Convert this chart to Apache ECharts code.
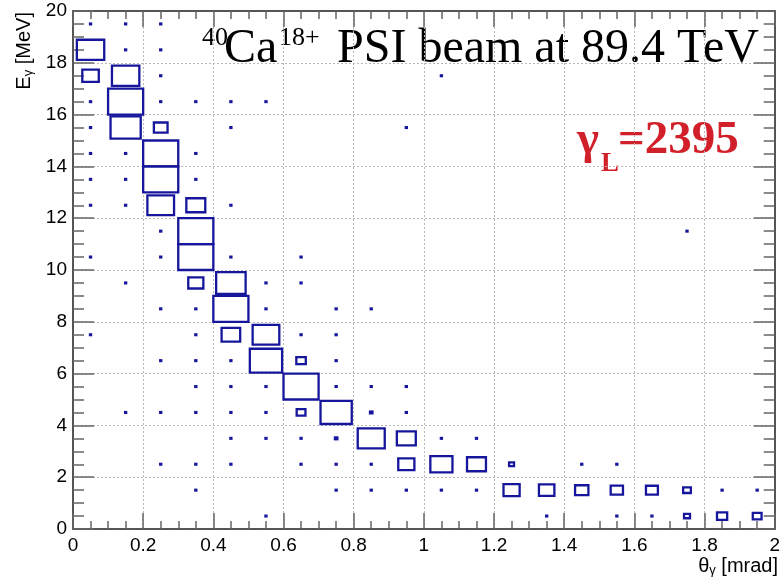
<!DOCTYPE html>
<html>
<head>
<meta charset="utf-8">
<script src="https://cdn.jsdelivr.net/npm/echarts@6.0.0/dist/echarts.min.js"></script>
<style>
html,body{margin:0;padding:0;background:#fff;}
#chart{width:783px;height:577px;}
</style>
</head>
<body>
<div id="chart"></div>
<script>
// Bin centres (theta in mrad, E in MeV) and relative bin content (max = 100)
const thetaValues = [
  0.05,0.15,0.25,
  0.05,0.15,0.25,
  0.05,0.15,0.25,1.05,
  0.05,0.15,0.25,0.35,0.45,0.55,
  0.05,0.15,0.25,0.45,0.95,
  0.05,0.15,0.25,0.35,
  0.05,0.15,0.25,0.35,
  0.05,0.15,0.25,0.35,0.45,
  0.25,0.35,1.75,
  0.05,0.25,0.35,0.45,0.65,
  0.15,0.35,0.45,0.55,0.65,
  0.25,0.35,0.45,0.55,0.75,0.85,
  0.05,0.35,0.45,0.55,0.65,0.75,
  0.25,0.35,0.45,0.55,0.65,0.75,
  0.35,0.45,0.55,0.65,0.75,0.85,0.95,
  0.15,0.25,0.35,0.45,0.55,0.65,0.75,0.85,0.95,
  0.45,0.55,0.65,0.75,0.85,0.95,1.05,1.15,
  0.25,0.35,0.45,0.65,0.75,0.85,0.95,1.05,1.15,1.25,1.45,1.55,
  0.35,0.75,0.85,0.95,1.05,1.15,1.25,1.35,1.45,1.55,1.65,1.75,1.85,1.95,
  0.55,1.35,1.55,1.65,1.75,1.85,1.95
];
const energyValues = [
  19.5,19.5,19.5,
  18.5,18.5,18.5,
  17.5,17.5,17.5,17.5,
  16.5,16.5,16.5,16.5,16.5,16.5,
  15.5,15.5,15.5,15.5,15.5,
  14.5,14.5,14.5,14.5,
  13.5,13.5,13.5,13.5,
  12.5,12.5,12.5,12.5,12.5,
  11.5,11.5,11.5,
  10.5,10.5,10.5,10.5,10.5,
  9.5,9.5,9.5,9.5,9.5,
  8.5,8.5,8.5,8.5,8.5,8.5,
  7.5,7.5,7.5,7.5,7.5,7.5,
  6.5,6.5,6.5,6.5,6.5,6.5,
  5.5,5.5,5.5,5.5,5.5,5.5,5.5,
  4.5,4.5,4.5,4.5,4.5,4.5,4.5,4.5,4.5,
  3.5,3.5,3.5,3.5,3.5,3.5,3.5,3.5,
  2.5,2.5,2.5,2.5,2.5,2.5,2.5,2.5,2.5,2.5,2.5,2.5,
  1.5,1.5,1.5,1.5,1.5,1.5,1.5,1.5,1.5,1.5,1.5,1.5,1.5,1.5,
  0.5,0.5,0.5,0.5,0.5,0.5,0.5
];
const binContent = [
  3,3,3,
  78,3,3,
  47,78,3,3,
  3,100,3,3,3,3,
  3,86,39,3,3,
  3,3,100,3,
  3,3,100,3,
  3,3,76,54,3,
  3,100,3,
  3,3,100,3,3,
  3,43,84,3,3,
  3,3,100,3,3,3,
  3,3,53,76,3,3,
  3,3,3,92,27,3,
  3,3,3,100,3,3,3,
  3,3,3,3,3,25,89,7,3,
  3,3,3,7,77,54,3,3,
  3,3,3,3,3,3,46,63,54,14,3,3,
  3,3,3,3,3,3,46,44,38,35,34,22,3,3,
  3,3,3,3,17,29,25
];
const xTicks = {min: 0, max: 2, step: 0.2};
const yTicks = {min: 0, max: 20, step: 2};
const binWidth = 0.1, binHeight = 1, maxContent = 100;

const data = thetaValues.map((t, i) => [t, energyValues[i], binContent[i]]);

const chart = echarts.init(document.getElementById('chart'), null, {renderer: 'canvas'});
const axisColor = '#555';
const tickStyle = {color: '#666', width: 1.5};
const gridStyle = {color: '#b8b8b8', width: 1, type: [2, 2]};
const sans = 'Liberation Sans';

chart.setOption({
  animation: false,
  backgroundColor: '#fff',
  grid: {left: 73, right: 5, top: 11, bottom: 48, containLabel: false},
  xAxis: [{
    type: 'value', min: xTicks.min, max: xTicks.max, interval: xTicks.step, position: 'bottom',
    axisLine: {show: true, onZero: false, lineStyle: {color: axisColor, width: 2}},
    axisTick: {show: true, inside: true, length: 16, lineStyle: tickStyle},
    minorTick: {show: true, splitNumber: 4, length: 8, lineStyle: tickStyle},
    splitLine: {show: true, lineStyle: gridStyle},
    axisLabel: {show: true, margin: 7, color: '#000', fontFamily: sans, fontSize: 19, showMinLabel: true, showMaxLabel: true, hideOverlap: false}
  }, {
    type: 'value', min: xTicks.min, max: xTicks.max, interval: xTicks.step, position: 'top',
    axisLine: {show: true, onZero: false, lineStyle: {color: axisColor, width: 2}},
    axisTick: {show: true, inside: true, length: 16, lineStyle: tickStyle},
    minorTick: {show: true, splitNumber: 4, length: 8, lineStyle: tickStyle},
    splitLine: {show: false}, axisLabel: {show: false}
  }],
  yAxis: [{
    type: 'value', min: yTicks.min, max: yTicks.max, interval: yTicks.step, position: 'left',
    axisLine: {show: true, onZero: false, lineStyle: {color: axisColor, width: 2}},
    axisTick: {show: true, inside: true, length: 21, lineStyle: tickStyle},
    minorTick: {show: true, splitNumber: 4, length: 11, lineStyle: tickStyle},
    splitLine: {show: true, lineStyle: gridStyle},
    axisLabel: {show: true, margin: 6, color: '#000', fontFamily: sans, fontSize: 19, showMinLabel: true, showMaxLabel: true, hideOverlap: false}
  }, {
    type: 'value', min: yTicks.min, max: yTicks.max, interval: yTicks.step, position: 'right',
    axisLine: {show: true, onZero: false, lineStyle: {color: axisColor, width: 2}},
    axisTick: {show: true, inside: true, length: 21, lineStyle: tickStyle},
    minorTick: {show: true, splitNumber: 4, length: 11, lineStyle: tickStyle},
    splitLine: {show: false}, axisLabel: {show: false}
  }],
  series: [{
    type: 'custom',
    xAxisIndex: 0, yAxisIndex: 0,
    data: data,
    clip: false,
    renderItem: function (params, api) {
      const c = api.coord([api.value(0), api.value(1)]);
      const s = api.size([binWidth, binHeight]);
      const f = api.value(2) / maxContent;
      const w = s[0] * f, h = s[1] * f;
      return {
        type: 'rect',
        shape: {x: c[0] - w / 2, y: c[1] - h / 2, width: w, height: h},
        style: {fill: 'none', stroke: '#16169c', lineWidth: 2.3}
      };
    }
  }],
  graphic: [
    {type: 'text', x: 202, y: 38, style: {text: '40', font: '26px "Liberation Serif"', fill: '#000', verticalAlign: 'middle', align: 'left'}},
    {type: 'text', x: 224, y: 49, style: {text: 'Ca', font: '48px "Liberation Serif"', fill: '#000', verticalAlign: 'middle', align: 'left'}},
    {type: 'text', x: 279, y: 38, style: {text: '18+', font: '26px "Liberation Serif"', fill: '#000', verticalAlign: 'middle', align: 'left'}},
    {type: 'text', x: 337, y: 49, style: {text: 'PSI beam at 89.4 TeV', font: '48px "Liberation Serif"', fill: '#000', verticalAlign: 'middle', align: 'left'}},
    {type: 'text', x: 577, y: 141, style: {text: 'γ', font: 'bold 47px "Liberation Serif"', fill: '#d2202a', verticalAlign: 'middle', align: 'left'}},
    {type: 'text', x: 601, y: 164, style: {text: 'L', font: 'bold 27px "Liberation Serif"', fill: '#d2202a', verticalAlign: 'middle', align: 'left'}},
    {type: 'text', x: 618, y: 141, style: {text: '=2395', font: 'bold 47px "Liberation Serif"', fill: '#d2202a', verticalAlign: 'middle', align: 'left'}},
    {type: 'text', x: 24, y: 12, rotation: Math.PI / 2, style: {
      text: '{n|E}{s|γ}{n| [MeV]}', align: 'right', verticalAlign: 'middle',
      rich: {n: {fontFamily: sans, fontSize: 20, lineHeight: 22, fill: '#000'},
             s: {fontFamily: sans, fontSize: 13, lineHeight: 13, padding: [7, 0, 0, 0], verticalAlign: 'bottom', fill: '#000'}}
    }},
    {type: 'text', x: 778, y: 566, style: {
      text: '{n|θ}{s|γ}{n| [mrad]}', align: 'right', verticalAlign: 'middle',
      rich: {n: {fontFamily: sans, fontSize: 20, lineHeight: 22, fill: '#000'},
             s: {fontFamily: sans, fontSize: 13, lineHeight: 13, padding: [7, 0, 0, 0], verticalAlign: 'bottom', fill: '#000'}}
    }}
  ]
});
</script>
</body>
</html>
